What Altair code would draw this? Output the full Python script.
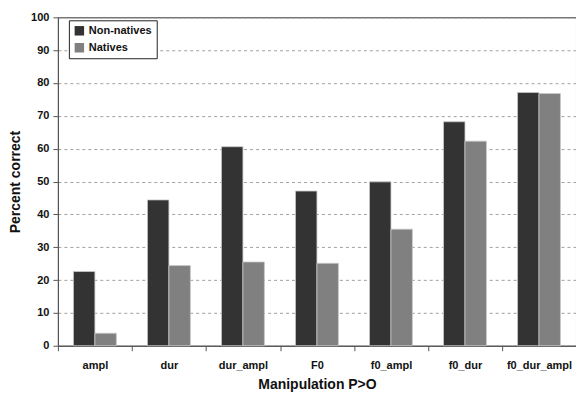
import altair as alt
import pandas as pd

categories = ["ampl", "dur", "dur_ampl", "F0", "f0_ampl", "f0_dur", "f0_dur_ampl"]
non_natives = [22.6, 44.4, 60.6, 47.1, 49.9, 68.2, 77.1]
natives = [3.8, 24.4, 25.5, 25.1, 35.5, 62.3, 76.8]
groups = ["Non-natives", "Natives"]

rows = []
for c, a, b in zip(categories, non_natives, natives):
    rows.append({"cat": c, "group": groups[0], "value": a})
    rows.append({"cat": c, "group": groups[1], "value": b})
df = pd.DataFrame(rows)

FONT = "Liberation Sans"

chart = alt.Chart(df).mark_bar(stroke="#c8c8c8", strokeWidth=0.8).encode(
    x=alt.X("cat:N", sort=categories,
            scale=alt.Scale(paddingInner=0.42, paddingOuter=0.21),
            axis=alt.Axis(title="Manipulation P>O", labelAngle=0, tickOffset=-37,
                          labelOffset=37, tickSize=5, tickColor="#555",
                          domainColor="#555", labelFont=FONT, labelFontWeight="bold",
                          labelFontSize=11, labelColor="#111", labelPadding=9,
                          titleFont=FONT, titleFontSize=14, titleFontWeight="bold",
                          titleColor="#111", titlePadding=7, grid=False)),
    xOffset=alt.XOffset("group:N", sort=groups),
    y=alt.Y("value:Q", scale=alt.Scale(domain=[0, 100], nice=False),
            axis=alt.Axis(title="Percent correct", values=list(range(0, 101, 10)),
                          tickSize=5, tickColor="#555", domainColor="#555",
                          labelFont=FONT, labelFontWeight="bold", labelFontSize=11,
                          labelColor="#111", labelPadding=4,
                          titleFont=FONT, titleFontSize=14, titleFontWeight="bold",
                          titleColor="#111", titlePadding=8,
                          grid=True, gridDash=[3, 3], gridColor="#888", gridWidth=0.8)),
    color=alt.Color("group:N", sort=groups,
                    scale=alt.Scale(domain=groups, range=["#333333", "#808080"]),
                    legend=alt.Legend(title=None, orient="none", legendX=11, legendY=3,
                                      symbolType="square", symbolSize=90,
                                      symbolStrokeWidth=0, labelFont=FONT,
                                      labelFontWeight="bold", labelFontSize=11,
                                      labelColor="#111", strokeColor="#222",
                                      padding=5, rowPadding=5, fillColor="white")),
).properties(
    width=519, height=329,
    padding={"left": 58, "top": 17, "right": 0, "bottom": 48},
    autosize=alt.AutoSizeParams(type="none"),
).configure_view(stroke="#333", strokeWidth=1)

chart.save("out.html", embed_options={"renderer": "svg", "actions": False})
